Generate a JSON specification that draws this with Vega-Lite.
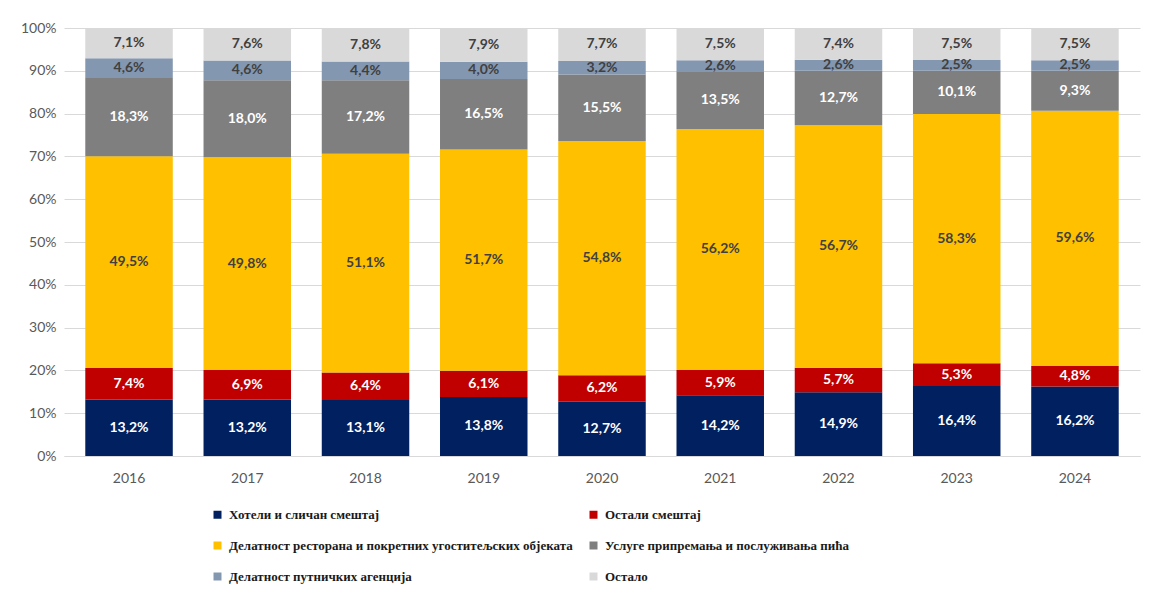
{
  "$schema": "https://vega.github.io/schema/vega-lite/v6.json",
  "autosize": {"type": "none"},
  "width": 1076,
  "height": 428,
  "padding": {"left": 64, "top": 28, "right": 16, "bottom": 138},
  "background": "white",
  "config": {
    "view": {"stroke": null},
    "locale": {"number": {"decimal": ",", "thousands": ".", "grouping": [3], "currency": ["", ""]}}
  },
  "data": {
    "values": [
      {"year": "2016", "cat": "Хотели и сличан смештај", "value": 13.2},
      {"year": "2016", "cat": "Остали смештај", "value": 7.4},
      {"year": "2016", "cat": "Делатност ресторана и покретних угоститељских објеката", "value": 49.5},
      {"year": "2016", "cat": "Услуге припремања и послуживања пића", "value": 18.3},
      {"year": "2016", "cat": "Делатност путничких агенција", "value": 4.6},
      {"year": "2016", "cat": "Остало", "value": 7.1},
      {"year": "2017", "cat": "Хотели и сличан смештај", "value": 13.2},
      {"year": "2017", "cat": "Остали смештај", "value": 6.9},
      {"year": "2017", "cat": "Делатност ресторана и покретних угоститељских објеката", "value": 49.8},
      {"year": "2017", "cat": "Услуге припремања и послуживања пића", "value": 18.0},
      {"year": "2017", "cat": "Делатност путничких агенција", "value": 4.6},
      {"year": "2017", "cat": "Остало", "value": 7.6},
      {"year": "2018", "cat": "Хотели и сличан смештај", "value": 13.1},
      {"year": "2018", "cat": "Остали смештај", "value": 6.4},
      {"year": "2018", "cat": "Делатност ресторана и покретних угоститељских објеката", "value": 51.1},
      {"year": "2018", "cat": "Услуге припремања и послуживања пића", "value": 17.2},
      {"year": "2018", "cat": "Делатност путничких агенција", "value": 4.4},
      {"year": "2018", "cat": "Остало", "value": 7.8},
      {"year": "2019", "cat": "Хотели и сличан смештај", "value": 13.8},
      {"year": "2019", "cat": "Остали смештај", "value": 6.1},
      {"year": "2019", "cat": "Делатност ресторана и покретних угоститељских објеката", "value": 51.7},
      {"year": "2019", "cat": "Услуге припремања и послуживања пића", "value": 16.5},
      {"year": "2019", "cat": "Делатност путничких агенција", "value": 4.0},
      {"year": "2019", "cat": "Остало", "value": 7.9},
      {"year": "2020", "cat": "Хотели и сличан смештај", "value": 12.7},
      {"year": "2020", "cat": "Остали смештај", "value": 6.2},
      {"year": "2020", "cat": "Делатност ресторана и покретних угоститељских објеката", "value": 54.8},
      {"year": "2020", "cat": "Услуге припремања и послуживања пића", "value": 15.5},
      {"year": "2020", "cat": "Делатност путничких агенција", "value": 3.2},
      {"year": "2020", "cat": "Остало", "value": 7.7},
      {"year": "2021", "cat": "Хотели и сличан смештај", "value": 14.2},
      {"year": "2021", "cat": "Остали смештај", "value": 5.9},
      {"year": "2021", "cat": "Делатност ресторана и покретних угоститељских објеката", "value": 56.2},
      {"year": "2021", "cat": "Услуге припремања и послуживања пића", "value": 13.5},
      {"year": "2021", "cat": "Делатност путничких агенција", "value": 2.6},
      {"year": "2021", "cat": "Остало", "value": 7.5},
      {"year": "2022", "cat": "Хотели и сличан смештај", "value": 14.9},
      {"year": "2022", "cat": "Остали смештај", "value": 5.7},
      {"year": "2022", "cat": "Делатност ресторана и покретних угоститељских објеката", "value": 56.7},
      {"year": "2022", "cat": "Услуге припремања и послуживања пића", "value": 12.7},
      {"year": "2022", "cat": "Делатност путничких агенција", "value": 2.6},
      {"year": "2022", "cat": "Остало", "value": 7.4},
      {"year": "2023", "cat": "Хотели и сличан смештај", "value": 16.4},
      {"year": "2023", "cat": "Остали смештај", "value": 5.3},
      {"year": "2023", "cat": "Делатност ресторана и покретних угоститељских објеката", "value": 58.3},
      {"year": "2023", "cat": "Услуге припремања и послуживања пића", "value": 10.1},
      {"year": "2023", "cat": "Делатност путничких агенција", "value": 2.5},
      {"year": "2023", "cat": "Остало", "value": 7.5},
      {"year": "2024", "cat": "Хотели и сличан смештај", "value": 16.2},
      {"year": "2024", "cat": "Остали смештај", "value": 4.8},
      {"year": "2024", "cat": "Делатност ресторана и покретних угоститељских објеката", "value": 59.6},
      {"year": "2024", "cat": "Услуге припремања и послуживања пића", "value": 9.3},
      {"year": "2024", "cat": "Делатност путничких агенција", "value": 2.5},
      {"year": "2024", "cat": "Остало", "value": 7.5}
    ]
  },
  "transform": [
    {"calculate": "indexof(['Хотели и сличан смештај','Остали смештај','Делатност ресторана и покретних угоститељских објеката','Услуге припремања и послуживања пића','Делатност путничких агенција','Остало'], datum.cat)", "as": "k"},
    {"stack": "value", "groupby": ["year"], "sort": [{"field": "k", "order": "ascending"}], "offset": "normalize", "as": ["y0", "y1"]},
    {"calculate": "(datum.y0 + datum.y1) / 2", "as": "ymid"},
    {"calculate": "replace(format(datum.value, '.1f'), '.', ',') + '%'", "as": "label"}
  ],
  "encoding": {
    "x": {
      "field": "year", "type": "nominal", "title": null,
      "scale": {"paddingInner": 0.26, "paddingOuter": 0.18},
      "axis": {"labelAngle": 0, "labelFont": "Lato", "labelFontSize": 14, "labelColor": "#595959", "ticks": false, "domainColor": "#D9D9D9", "labelPadding": 15, "grid": false}
    }
  },
  "layer": [
    {
      "mark": {"type": "bar"},
      "encoding": {
        "y": {
          "field": "y0", "type": "quantitative", "title": null,
          "scale": {"domain": [0, 1], "nice": false},
          "axis": {"format": ".0%", "values": [0, 0.1, 0.2, 0.3, 0.4, 0.5, 0.6, 0.7, 0.8, 0.9, 1], "labelFont": "Lato", "labelFontSize": 14, "labelColor": "#595959", "ticks": false, "domain": false, "gridColor": "#D9D9D9", "labelPadding": 8}
        },
        "y2": {"field": "y1"},
        "color": {
          "field": "cat", "type": "nominal", "title": null,
          "scale": {
            "domain": ["Хотели и сличан смештај", "Остали смештај", "Делатност ресторана и покретних угоститељских објеката", "Услуге припремања и послуживања пића", "Делатност путничких агенција", "Остало"],
            "range": ["#002060", "#C00000", "#FFC000", "#7F7F7F", "#8497B0", "#D9D9D9"]
          },
          "legend": {
            "orient": "none", "legendX": 147, "legendY": 480, "direction": "horizontal", "columns": 2,
            "symbolType": "square", "symbolSize": 64, "symbolStrokeWidth": 0,
            "labelFont": "Liberation Serif", "labelFontWeight": "bold", "labelFontSize": 13, "labelColor": "#1a1a1a",
            "rowPadding": 17, "columnPadding": 14, "labelLimit": 500, "labelOffset": 5
          }
        }
      }
    },
    {
      "mark": {"type": "text", "font": "Lato", "fontWeight": "bold", "fontSize": 14, "baseline": "middle"},
      "encoding": {
        "y": {"field": "ymid", "type": "quantitative"},
        "text": {"field": "label"},
        "color": {
          "condition": {"test": "datum.k == 0 || datum.k == 1 || datum.k == 3", "value": "white"},
          "value": "#404040"
        }
      }
    }
  ]
}
